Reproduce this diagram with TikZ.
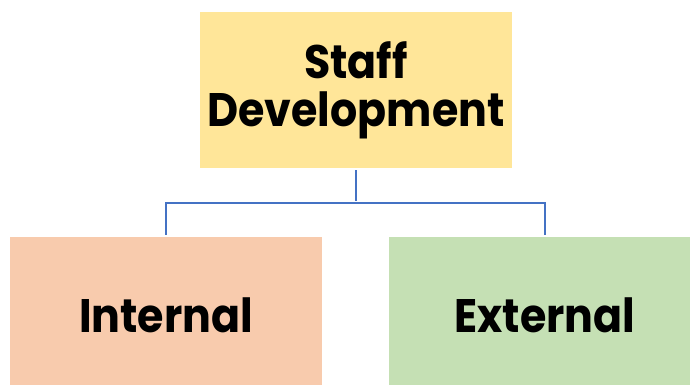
\documentclass[tikz,border=0pt]{standalone}
\usepackage{fontspec}
\setmainfont{Poppins}[FakeStretch=0.91]
\definecolor{boxyellow}{HTML}{FFE699}
\definecolor{boxsalmon}{HTML}{F8CBAD}
\definecolor{boxgreen}{HTML}{C5E0B4}
\definecolor{linkblue}{HTML}{4472C4}

\begin{document}
\begin{tikzpicture}[x=1pt, y=-1pt,
    block/.style={minimum width=312pt, minimum height=156pt, inner sep=0pt,
        align=center, font=\fontsize{47}{48}\selectfont\bfseries},
    link/.style={draw=linkblue, line width=1.8pt, shorten <=2pt, shorten >=2pt}]
    \useasboundingbox (0,0) rectangle (690,385);
    \node[block, fill=boxyellow] (Staff) at (356,90) {Staff\\Development};
    \node[block, fill=boxsalmon] (Int) at (166,315) {Internal};
    \node[block, fill=boxgreen] (Ext) at (545,315) {External};
    \coordinate (Split) at (356,203);
    \draw[link] (Staff.south) -- (Split);
    \draw[link, shorten <=0pt] (Split) -| (Int.north);
    \draw[link, shorten <=0pt] (Split) -| (Ext.north);
\end{tikzpicture}
\end{document}
